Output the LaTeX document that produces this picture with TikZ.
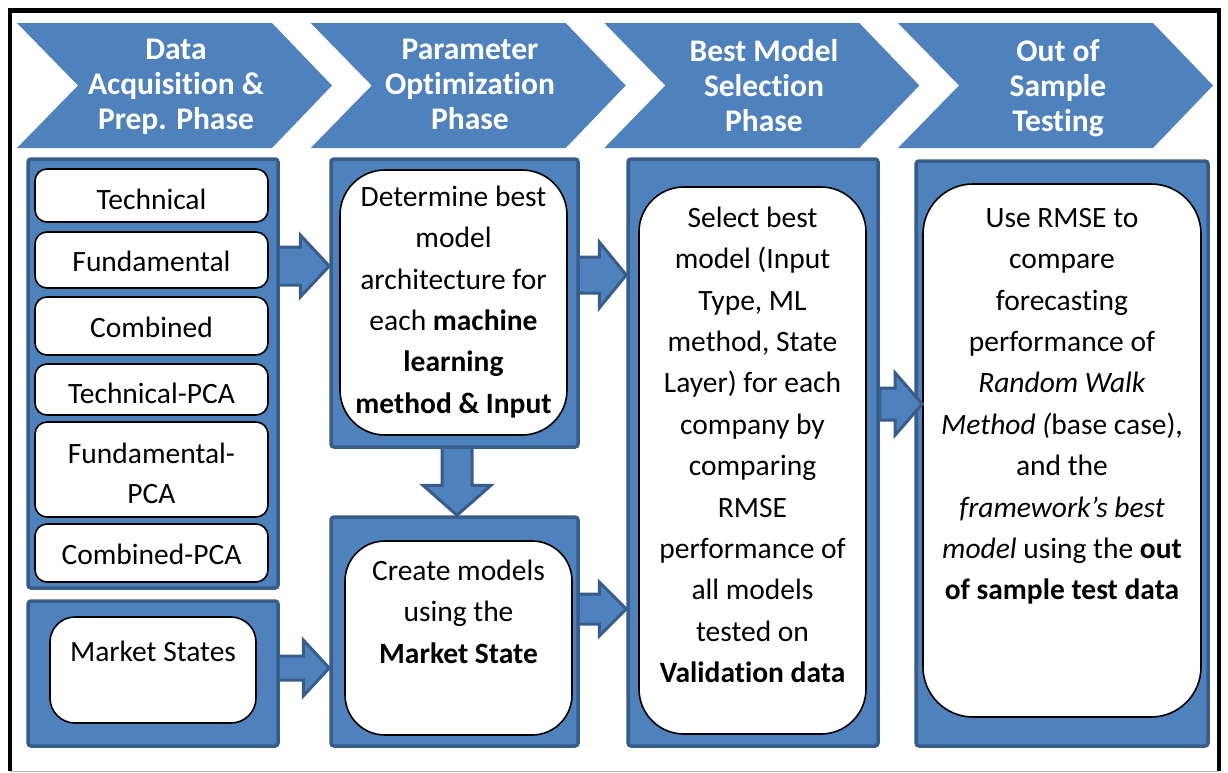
\documentclass[tikz,border=0pt]{standalone}
\usepackage{fontspec}
\setmainfont{Carlito}[Ligatures=NoCommon, Contextuals=NoAlternate]
\usetikzlibrary{calc}
\definecolor{ofblue}{HTML}{4F81BD}
\definecolor{ofdark}{HTML}{385D8A}
\pgfdeclarelayer{bg}
\pgfsetlayers{bg,main}

% rectangle node from its corner coordinates
\newcommand\panel[6]{%
  \node[#2, minimum width={#5-#3}, minimum height={#6-#4}] (#1) at ({(#3+#5)/2},{(#4+#6)/2}) {};}
% block arrow: source anchor, target anchor, y, shaft half, head half, head length
\newcommand\harrow[6]{%
  \draw[barrow] (#1 |- 0,{#3-#4})
    -- ($(#2 |- 0,{#3-#4})+(-#6,0)$)
    -- ($(#2 |- 0,{#3-#5})+(-#6,0)$)
    -- (#2 |- 0,#3)
    -- ($(#2 |- 0,{#3+#5})+(-#6,0)$)
    -- ($(#2 |- 0,{#3+#4})+(-#6,0)$)
    -- (#1 |- 0,{#3+#4}) -- cycle;}
\newcommand\fl{\rule{0pt}{21pt}}

\begin{document}
\begin{tikzpicture}[x=1pt,y=-1pt,
  chevron/.style={fill=ofblue, draw=none},
  title/.style={text=white, font=\fontsize{31.5}{35}\selectfont\bfseries,
    align=center, inner sep=0pt, anchor=north},
  cont/.style={fill=ofblue, draw=ofdark, line width=3.5pt, rounded corners=3pt, inner sep=0pt},
  card/.style={fill=white, draw=black, line width=1.6pt, inner sep=0pt, rounded corners=12pt},
  bigcard/.style={card, rounded corners=45pt},
  body/.style={font=\fontsize{29.5}{41.4}\selectfont, align=center, inner sep=0pt},
  line1/.style={body, anchor=base},
  block/.style={body, anchor=north},
  barrow/.style={fill=ofblue, draw=ofdark, line width=3pt, line join=miter}]

\useasboundingbox (0,0) rectangle (1228,772);

% outer frame
\draw[gray!55, line width=1pt] (10,771) -- (1219,771);
\draw[black, line width=4.5pt] (10,771) -- (10,10.5) -- (1219,10.5) -- (1219,771);

% phase chevrons
\foreach \L in {17,310.7,604.3,898}
  \fill[chevron] (\L,23) -- (\L+255,23) -- (\L+315,85.5) -- (\L+255,148)
    -- (\L,148) -- (\L+61,85.5) -- cycle;
\node[title] (p1) at (176,39) {\rule{0pt}{20pt}Data\\Acquisition \&\\Prep. Phase};
\node[title] (p2) at (470,39) {\rule{0pt}{20pt}Parameter\\Optimization\\Phase};
\node[title] (p3) at (764,39) {\rule{0pt}{20pt}Best Model\\Selection\\Phase};
\node[title] (p4) at (1058,39) {\rule{0pt}{20pt}Out of\\Sample\\Testing};

% blue containers
\panel{c1}{cont}{28}{159}{278}{588}
\panel{cm}{cont}{28}{601}{278}{746}
\panel{c2a}{cont}{331}{159}{578}{447}
\panel{c2b}{cont}{331}{517}{578}{746}
\panel{c3}{cont}{628}{159}{878}{746}
\panel{c4}{cont}{916}{161}{1208}{746}

% block arrows between containers
\begin{pgfonlayer}{bg}
\harrow{c1.center}{c2a.west}{266}{19}{31}{29}
\harrow{cm.center}{c2b.west}{668}{12}{28}{26}
\harrow{c2a.center}{c3.west}{275}{18}{33}{27}
\harrow{c2b.center}{c3.west}{609}{15}{27}{27}
\draw[barrow] (c2a.center -| 442,0)
  -- ($(c2b.north -| 442,0)+(0,-30)$) -- ($(c2b.north -| 423,0)+(0,-30)$)
  -- (c2b.north -| 457,0)
  -- ($(c2b.north -| 491,0)+(0,-30)$) -- ($(c2b.north -| 472,0)+(0,-30)$)
  -- (c2a.center -| 472,0) -- cycle;
\end{pgfonlayer}

% input data types
\panel{k1}{card}{35}{169}{268}{222}
\panel{k2}{card}{35}{232}{268}{288}
\panel{k3}{card}{35}{297}{268}{355}
\panel{k4}{card}{35}{364}{268}{415}
\panel{k5}{card}{35}{422}{268}{517}
\panel{k6}{card}{35}{524}{268}{582}
\panel{km}{card, rounded corners=25pt}{50}{617}{256}{723}
\node[line1] (t1) at (151.5,209) {Technical};
\node[line1] (t2) at (151.5,271) {Fundamental};
\node[line1] (t3) at (151.5,337) {Combined};
\node[line1] (t4) at (151.5,403) {Technical-PCA};
\node[block] (t5) at (151.5,442) {\fl Fundamental-\\[-1.4pt]PCA};
\node[line1] (t6) at (151.5,564) {Combined-PCA};
\node[line1] (tm) at (153,661) {Market States};

% step cards
\panel{b2a}{bigcard}{340}{170}{567}{435}
\panel{b2b}{bigcard, rounded corners=40pt}{345}{541}{572}{735}
\panel{b3}{bigcard}{639}{187}{866}{734}
\panel{b4}{bigcard, rounded corners=50pt}{923}{184}{1201}{717}

% the last arrow runs over the border of the testing container up to its card
\harrow{c3.east}{b4.west}{404}{16}{31}{27}

\node[block] (s2a) at (453.5,185) {\fl Determine best\\model\\architecture for\\each \textbf{machine}\\\textbf{learning}\\\textbf{method \& Input}};
\node[block] (s2b) at (458.5,559) {\fl Create models\\using the\\\textbf{Market State}};
\node[block] (s3) at (752.5,206) {\fl Select best\\model (Input\\Type, ML\\method, State\\Layer) for each\\company by\\comparing\\RMSE\\performance of\\all models\\tested on\\\textbf{Validation data}};
\node[block] (s4) at (1062,206) {\fl Use RMSE to\\compare\\forecasting\\performance of\\\textit{Random Walk}\\\textit{Method (}base case),\\and the\\\textit{framework’s best}\\\textit{model} using the \textbf{out}\\\textbf{of sample test data}};

\end{tikzpicture}
\end{document}
